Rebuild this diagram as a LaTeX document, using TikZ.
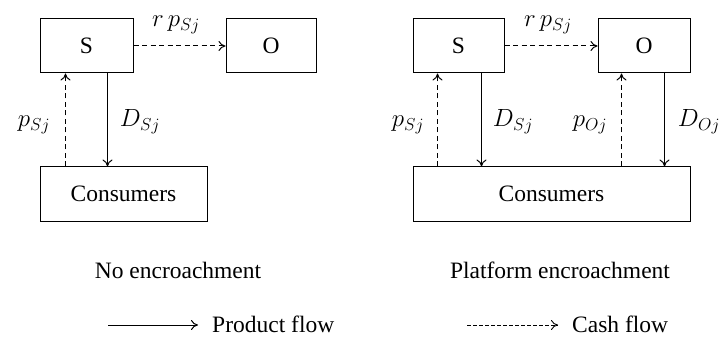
\documentclass[tikz,border=0pt]{standalone}
\usepackage{fontspec}
\setmainfont{Liberation Serif}
\usetikzlibrary{arrows.meta}
\tikzset{
  box/.style={draw, line width=1pt, inner sep=0pt, font=\fontsize{23.5}{27}\selectfont},
  prod/.style={line width=1pt, -{To[length=7pt,width=10pt]}},
  cash/.style={line width=1pt, dash pattern=on 5pt off 3.5pt, -{To[length=7pt,width=10pt]}},
  lab/.style={anchor=base, inner sep=0pt, font=\fontsize{27}{30}\selectfont},
  ttl/.style={anchor=base, inner sep=0pt, font=\fontsize{23.5}{27}\selectfont}
}
\begin{document}
\begin{tikzpicture}[x=1pt,y=-1pt]
\useasboundingbox (0,0) rectangle (719,347);
% left panel
\node[box, minimum width=93pt, minimum height=54pt] (ls) at (86.5,46) {S};
\node[box, minimum width=90pt, minimum height=54pt] (lo) at (271,46) {O};
\node[box, minimum width=167pt, minimum height=54pt] (lc) at (123.5,194) {Consumers};
\draw[cash] (ls.east) -- (lo.west);
\draw[cash] ([xshift=26pt]lc.north west) -- ([xshift=26pt]ls.south west);
\draw[prod] ([xshift=68pt]ls.south west) -- ([xshift=68pt]lc.north west);
\node[lab] (l1) at (176,27) {$r\,p_{Sj}$};
\node[lab] (l2) at (34,127) {$p_{Sj}$};
\node[lab] (l3) at (140,127) {$D_{Sj}$};
% right panel
\node[box, minimum width=91pt, minimum height=54pt] (rs) at (458.5,46) {S};
\node[box, minimum width=92pt, minimum height=54pt] (ro) at (644,46) {O};
\node[box, minimum width=277pt, minimum height=54pt] (rc) at (551.5,194) {Consumers};
\draw[cash] (rs.east) -- (ro.west);
\draw[cash] ([xshift=25pt]rs.south west |- rc.north) -- ([xshift=25pt]rs.south west);
\draw[prod] ([xshift=69pt]rs.south west) -- ([xshift=69pt]rs.south west |- rc.north);
\draw[cash] ([xshift=24pt]ro.south west |- rc.north) -- ([xshift=24pt]ro.south west);
\draw[prod] ([xshift=67pt]ro.south west) -- ([xshift=67pt]ro.south west |- rc.north);
\node[lab] (r1) at (548,27) {$r\,p_{Sj}$};
\node[lab] (r2) at (408,127) {$p_{Sj}$};
\node[lab] (r3) at (513,127) {$D_{Sj}$};
\node[lab] (r4) at (590,127) {$p_{Oj}$};
\node[lab] (r5) at (699,127) {$D_{Oj}$};
% titles
\node[ttl] (t1) at (178,278) {No encroachment};
\node[ttl] (t2) at (560,278) {Platform encroachment};
% legend
\coordinate (pa) at (108,325);
\coordinate (pb) at (198,325);
\draw[line width=1pt, -{To[length=7pt,width=10pt]}] (pa) -- (pb);
\node[ttl, anchor=base west] (pl) at (212,332) {Product flow};
\coordinate (ca) at (467,325);
\coordinate (cb) at (558,325);
\draw[line width=0.9pt, dash pattern=on 3.5pt off 2.5pt, -{To[length=7pt,width=10pt]}] (ca) -- (cb);
\node[ttl, anchor=base west] (cl) at (572,332) {Cash flow};
\end{tikzpicture}
\end{document}
